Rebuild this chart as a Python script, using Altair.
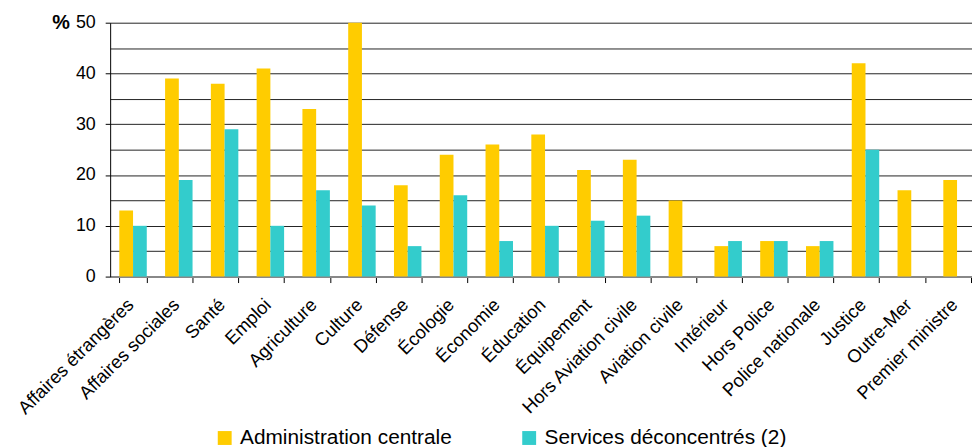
import altair as alt
import pandas as pd

categories = ["Affaires étrangères", "Affaires sociales", "Santé", "Emploi", "Agriculture",
              "Culture", "Défense", "Écologie", "Économie", "Éducation", "Équipement",
              "Hors Aviation civile", "Aviation civile", "Intérieur", "Hors Police",
              "Police nationale", "Justice", "Outre-Mer", "Premier ministre"]
admin_centrale = [13, 39, 38, 41, 33, 50, 18, 24, 26, 28, 21, 23, 15, 6, 7, 6, 42, 17, 19]
services_deconcentres = [10, 19, 29, 10, 17, 14, 6, 16, 7, 10, 11, 12, None, 7, 7, 7, 25, None, None]
series = ["Administration centrale", "Services déconcentrés (2)"]
colors = ["#FFCC00", "#33CCCC"]
y_values = [0, 5, 10, 15, 20, 25, 30, 35, 40, 45, 50]

rows = []
for c, a, s in zip(categories, admin_centrale, services_deconcentres):
    if a is not None:
        rows.append({"cat": c, "series": series[0], "value": a})
    if s is not None:
        rows.append({"cat": c, "series": series[1], "value": s})
df = pd.DataFrame(rows)

FONT = "Liberation Sans"

chart = alt.Chart(df).mark_bar().encode(
    x=alt.X("cat:N", sort=categories,
            scale=alt.Scale(range=[0, 877], paddingInner=0.4, paddingOuter=0.2),
            axis=alt.Axis(title=None, labelAngle=-45, labelAlign="right", labelBaseline="middle",
                          labelFontSize=18.5, labelPadding=19, labelOffset=-3, tickBand="extent",
                          tickSize=6, tickColor="#000", tickWidth=1, domainColor="#888888",
                          domainWidth=2, labelColor="#000", labelFont=FONT, grid=False,
                          labelLimit=400)),
    xOffset=alt.XOffset("series:N", sort=series),
    y=alt.Y("value:Q", scale=alt.Scale(domain=[0, 50], nice=False),
            axis=alt.Axis(values=y_values,
                          labelExpr="datum.value % 10 === 0 ? datum.label : ''",
                          title="%", titleAngle=0, titleX=-50, titleY=0, titleAlign="center",
                          titleBaseline="middle", titleFontWeight="bold", titleFontSize=20,
                          titleColor="#000", titleFont=FONT,
                          grid=True, gridColor="#222222", gridWidth=1,
                          tickColor={"condition": {"test": "datum.value % 10 === 0", "value": "#000"},
                                     "value": "transparent"},
                          tickSize=5, labelPadding=10, labelFontSize=18, labelColor="#000",
                          labelFont=FONT, domainColor="#000", domainWidth=1)),
    color=alt.Color("series:N", sort=series,
                    scale=alt.Scale(domain=series, range=colors),
                    legend=alt.Legend(title=None, orient="none", direction="horizontal",
                                      legendX=105, legendY=408, symbolType="square",
                                      symbolSize=196, symbolStrokeWidth=0, labelFontSize=21,
                                      labelFont=FONT, labelColor="#000", labelOffset=5,
                                      labelLimit=500, columnPadding=67, padding=0)),
).properties(
    width=869, height=256,
    padding={"left": 103, "top": 13, "right": 0, "bottom": 170},
    autosize=alt.AutoSizeParams(type="none"),
).configure(font=FONT).configure_view(stroke=None)

chart.save("out.html", embed_options={"renderer": "svg", "actions": False})
